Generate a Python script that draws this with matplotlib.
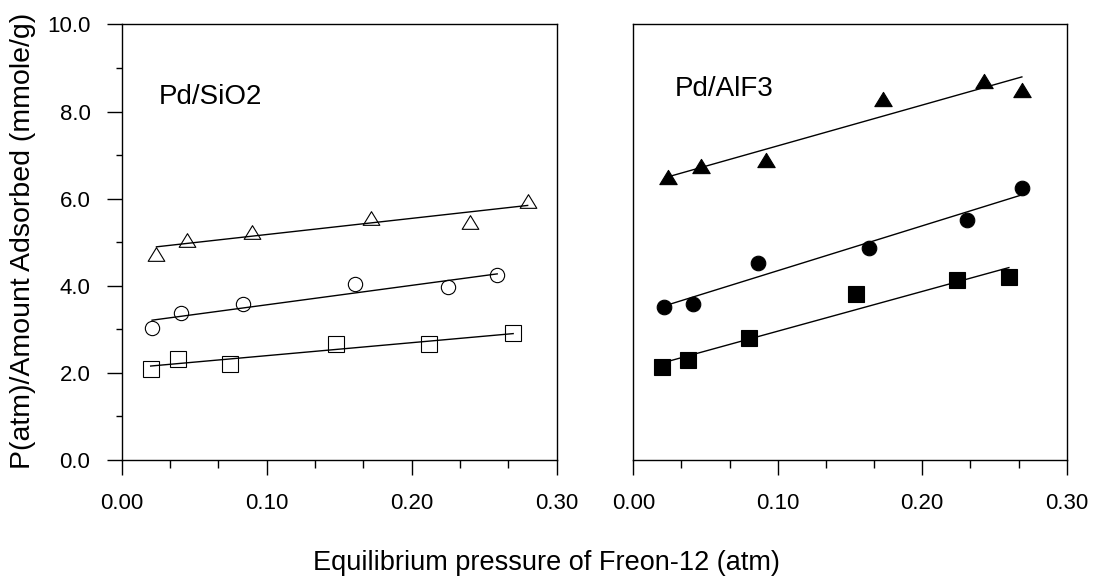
import matplotlib
matplotlib.use("Agg")
import matplotlib.pyplot as plt
from matplotlib.ticker import MultipleLocator, FormatStrFormatter
from matplotlib.path import Path
import numpy as np

plt.rcParams["font.family"] = ["Liberation Sans", "DejaVu Sans"]

# Pd/SiO2 (open symbols)
sio2_tri_x = [0.024, 0.045, 0.090, 0.172, 0.240, 0.280]
sio2_tri_y = [4.74, 5.05, 5.24, 5.55, 5.46, 5.95]
sio2_cir_x = [0.021, 0.041, 0.084, 0.161, 0.225, 0.259]
sio2_cir_y = [3.02, 3.37, 3.58, 4.03, 3.98, 4.25]
sio2_sq_x = [0.020, 0.039, 0.075, 0.148, 0.212, 0.270]
sio2_sq_y = [2.10, 2.33, 2.20, 2.66, 2.66, 2.91]

# Pd/AlF3 (filled symbols)
alf3_tri_x = [0.024, 0.047, 0.092, 0.173, 0.243, 0.269]
alf3_tri_y = [6.49, 6.75, 6.88, 8.28, 8.71, 8.49]
alf3_cir_x = [0.021, 0.041, 0.086, 0.163, 0.231, 0.269]
alf3_cir_y = [3.52, 3.58, 4.53, 4.86, 5.52, 6.24]
alf3_sq_x = [0.020, 0.038, 0.080, 0.154, 0.224, 0.260]
alf3_sq_y = [2.14, 2.30, 2.79, 3.80, 4.13, 4.19]

x_ticks = [0.00, 0.10, 0.20, 0.30]
y_ticks = [0.0, 2.0, 4.0, 6.0, 8.0, 10.0]

# slightly flattened triangle, closed so the open version draws all 3 edges
tri = Path([(0, 0.82), (-1, -0.82), (1, -0.82), (0, 0.82)],
           [Path.MOVETO, Path.LINETO, Path.LINETO, Path.CLOSEPOLY])

fig = plt.figure(figsize=(10.93, 5.81), dpi=100)
ax1 = fig.add_axes([0.1113, 0.2083, 0.398, 0.7496])
ax2 = fig.add_axes([0.5794, 0.2083, 0.3965, 0.7496])


def draw_set(ax, xs, ys, marker, ms, filled):
    fc = "black" if filled else "white"
    k, b = np.polyfit(xs, ys, 1)
    lx = np.array([min(xs), max(xs)])
    ax.plot(lx, k * lx + b, color="black", lw=1.0, zorder=2)
    ax.plot(xs, ys, ls="none", marker=marker, ms=ms, mfc=fc, mec="black",
            mew=0.8, zorder=3 if filled else 1)


draw_set(ax1, sio2_tri_x, sio2_tri_y, tri, 12, False)
draw_set(ax1, sio2_cir_x, sio2_cir_y, "o", 10.3, False)
draw_set(ax1, sio2_sq_x, sio2_sq_y, "s", 12, False)

draw_set(ax2, alf3_tri_x, alf3_tri_y, tri, 12.5, True)
draw_set(ax2, alf3_cir_x, alf3_cir_y, "o", 10.5, True)
draw_set(ax2, alf3_sq_x, alf3_sq_y, "s", 12, True)

for ax in (ax1, ax2):
    ax.set_xlim(0, 0.30)
    ax.set_ylim(0, 10)
    ax.set_xticks(x_ticks)
    ax.xaxis.set_minor_locator(MultipleLocator(0.1 / 3))
    ax.xaxis.set_major_formatter(FormatStrFormatter("%.2f"))
    ax.tick_params(axis="x", which="major", direction="out", length=10.8,
                   width=1.0, labelsize=16, pad=13)
    ax.tick_params(axis="x", which="minor", direction="out", length=5.5, width=1.0)
    ax.tick_params(top=False, right=False, which="both")
    for s in ax.spines.values():
        s.set_linewidth(1.0)

ax1.set_yticks(y_ticks)
ax1.yaxis.set_minor_locator(MultipleLocator(1))
ax1.yaxis.set_major_formatter(FormatStrFormatter("%.1f"))
ax1.tick_params(axis="y", which="major", direction="out", length=10.5,
                width=1.0, labelsize=16, pad=12)
ax1.tick_params(axis="y", which="minor", direction="out", length=4.5, width=1.0)

ax2.tick_params(axis="y", which="both", left=False, labelleft=False)

ax1.text(0.0257, 8.17, "Pd/SiO2", fontsize=20, va="baseline", ha="left")
ax2.text(0.0288, 8.35, "Pd/AlF3", fontsize=20, va="baseline", ha="left")

fig.text(0.021, 0.585, "P(atm)/Amount Adsorbed (mmole/g)", rotation=90,
         fontsize=20.5, ha="center", va="center")
fig.text(0.5, 0.019, "Equilibrium pressure of Freon-12 (atm)", fontsize=19.5,
         ha="center", va="baseline")

fig.savefig("out.png", dpi=100)
